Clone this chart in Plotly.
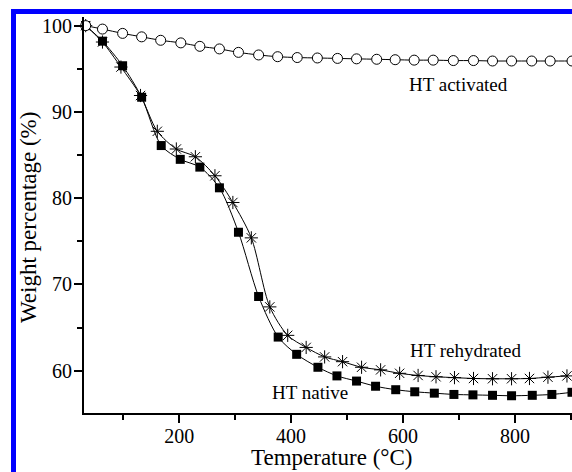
import plotly.graph_objects as go

# HT activated (open circles)
act_x = [33, 63, 99, 133, 167, 203, 237, 272, 306, 342, 376, 411, 447, 483, 517, 553,
         586, 620, 654, 690, 726, 760, 794, 830, 863, 902]
act_y = [100.0, 99.6, 99.1, 98.7, 98.3, 98.0, 97.6, 97.3, 96.9, 96.6, 96.4, 96.3, 96.25, 96.2,
         96.15, 96.1, 96.05, 96.0, 96.0, 95.95, 95.95, 95.9, 95.9, 95.9, 95.9, 95.9]

# HT native (filled squares)
nat_x = [33, 63, 99, 133, 168, 202, 237, 272, 306, 342, 377, 410, 448, 482, 517, 551,
         587, 621, 656, 691, 725, 760, 794, 831, 866, 902]
nat_y = [100.0, 98.2, 95.35, 91.7, 86.1, 84.5, 83.6, 81.2, 76.05, 68.6, 63.9, 61.9, 60.4, 59.4,
         58.8, 58.2, 57.8, 57.56, 57.4, 57.25, 57.2, 57.15, 57.1, 57.15, 57.25, 57.5]

# HT rehydrated (asterisks)
reh_x = [33, 63, 96, 131, 161, 195, 229, 264, 296, 329, 362, 394, 427, 460, 492, 526,
         560, 594, 627, 659, 692, 726, 760, 794, 826, 859, 893]
reh_y = [100.0, 98.1, 95.2, 91.9, 87.75, 85.7, 84.8, 82.6, 79.5, 75.4, 67.4, 64.1, 62.7, 61.6,
         61.05, 60.4, 60.1, 59.7, 59.45, 59.3, 59.2, 59.1, 59.07, 59.07, 59.1, 59.25, 59.4]

labels = ["HT activated", "HT rehydrated", "HT native"]
label_x = [700, 712, 434]
label_y = [93.2, 62.4, 57.5]

x_title = "Temperature (°C)"
y_title = "Weight percentage (%)"

FONT = "Liberation Serif, Times New Roman, serif"
W, H = 572, 472
L, R, T, B = 84, 0, 17, 59
PW, PH = W - L - R, H - T - B


def px(x):
    return (x - L) / PW


def py(y):
    return (H - B - y) / PH


fig = go.Figure()
line = dict(color="black", width=1, shape="spline", smoothing=0.8)
fig.add_trace(go.Scatter(x=nat_x, y=nat_y, mode="lines+markers", line=line,
                         marker=dict(symbol="square", size=9, color="black"),
                         showlegend=False, cliponaxis=False))
fig.add_trace(go.Scatter(x=reh_x, y=reh_y, mode="lines+markers", line=line,
                         marker=dict(symbol="asterisk-open", size=11, color="black",
                                     line=dict(color="black", width=1)),
                         showlegend=False, cliponaxis=False))
fig.add_trace(go.Scatter(x=act_x, y=act_y, mode="lines+markers", line=line,
                         marker=dict(symbol="circle", size=10, color="white",
                                     line=dict(color="black", width=1)),
                         showlegend=False, cliponaxis=False))

axis_common = dict(showline=True, linecolor="black", linewidth=2, ticks="outside",
                   ticklen=8, tickwidth=1.5, tickcolor="black", showgrid=False,
                   zeroline=False, mirror=False,
                   tickfont=dict(family=FONT, size=20, color="black"))

fig.update_xaxes(range=[30, 902], tick0=0, dtick=200, ticklabelstandoff=-4,
                 minor=dict(dtick=100, ticklen=5, tickwidth=1.5, tickcolor="black", ticks="outside"),
                 **axis_common)
fig.update_yaxes(range=[55.1, 101], tick0=0, dtick=10, ticklabelstandoff=-2,
                 minor=dict(dtick=5, ticklen=5, tickwidth=1.5, tickcolor="black", ticks="outside"),
                 **axis_common)

ann_font = dict(family=FONT, size=19, color="black")
for t, lx, ly in zip(labels, label_x, label_y):
    fig.add_annotation(x=lx, y=ly, text=t, showarrow=False, font=ann_font)

title_font = dict(family=FONT, size=23, color="black")
fig.add_annotation(xref="paper", yref="paper", x=px(331), y=py(458), text=x_title,
                   showarrow=False, font=title_font, xanchor="center", yanchor="middle")
fig.add_annotation(xref="paper", yref="paper", x=px(28), y=py(218), text=y_title,
                   showarrow=False, font=title_font, textangle=-90,
                   xanchor="center", yanchor="middle")

# blue frame of the original figure
fig.add_shape(type="rect", xref="paper", yref="paper", x0=px(11), x1=px(16), y0=py(472), y1=py(9),
              fillcolor="#0000ff", line=dict(width=0), layer="above")
fig.add_shape(type="rect", xref="paper", yref="paper", x0=px(11), x1=px(572), y0=py(14), y1=py(9),
              fillcolor="#0000ff", line=dict(width=0), layer="above")

fig.update_layout(width=W, height=H, margin=dict(l=L, r=R, t=T, b=B, pad=0),
                  paper_bgcolor="white", plot_bgcolor="white",
                  font=dict(family=FONT, color="black"))

fig.write_html("out.html")
